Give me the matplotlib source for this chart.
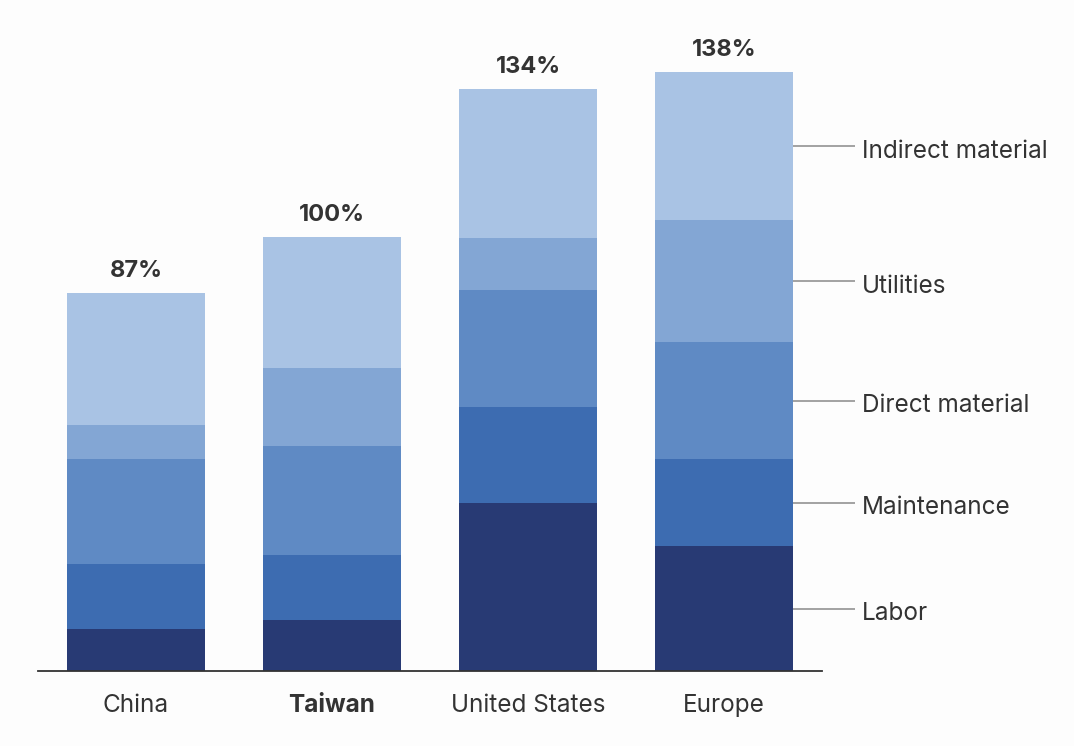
import matplotlib
matplotlib.use("Agg")
import matplotlib.pyplot as plt
import numpy as np

regions = ["China", "Taiwan", "United States", "Europe"]
totals = ["87%", "100%", "134%", "138%"]
components = ["Labor", "Maintenance", "Direct material", "Utilities", "Indirect material"]
labor = [9.7, 11.8, 38.7, 28.8]
maintenance = [15.0, 15.0, 22.1, 20.0]
direct_material = [24.2, 25.1, 27.0, 27.0]
utilities = [7.8, 18.0, 12.0, 28.1]
indirect_material = [30.3, 30.1, 34.2, 34.1]

series = [labor, maintenance, direct_material, utilities, indirect_material]
colors = ["#283a74", "#3d6cb1", "#5f8ac4", "#83a6d4", "#a9c3e4"]

plt.rcParams['font.family'] = ['Inter', 'DejaVu Sans']
bg = "#fdfdfd"
txt = "#333333"
fs = 17.5

fig = plt.figure(figsize=(10.74, 7.46), dpi=100, facecolor=bg)
ax = fig.add_axes([38/1074, 75/746, 784/1074, 651/746])
ax.set_facecolor(bg)

x = np.arange(len(regions))
bottom = np.zeros(len(regions))
width = 0.704
for vals, c in zip(series, colors):
    ax.bar(x, vals, width, bottom=bottom, color=c, linewidth=0)
    bottom = bottom + np.array(vals)

ax.set_xlim(-0.5, 3.5)
ax.set_ylim(0, 150)

# Totals above bars
for xi, tot, t in zip(x, bottom, totals):
    ax.annotate(t, xy=(xi, tot), xytext=(0, 11.5), textcoords='offset points',
                ha='center', va='baseline', fontsize=17, fontweight='bold',
                color=txt)

# Category labels below axis
for i, (xi, r) in enumerate(zip(x, regions)):
    ax.annotate(r, xy=(xi, 0), xytext=(0, -29.5), textcoords='offset points',
                ha='center', va='baseline', fontsize=fs, color=txt,
                fontweight='bold' if r == "Taiwan" else 'normal',
                annotation_clip=False)

# Right-side labels with leader lines at Europe's segment midpoints
eu = len(regions) - 1
cum = 0.0
for name, vals in zip(components, series):
    mid = cum + vals[eu] / 2
    cum += vals[eu]
    ax.plot([eu + width / 2, 3.668], [mid, mid], color="#8a8a8a", lw=1.1,
            clip_on=False, solid_capstyle='butt')
    ax.annotate(name, xy=(3.704, mid), xytext=(0, -8.4), textcoords='offset points',
                ha='left', va='baseline', fontsize=fs, color=txt,
                annotation_clip=False)

for s in ['top', 'right', 'left']:
    ax.spines[s].set_visible(False)
ax.spines['bottom'].set_color("#333333")
ax.spines['bottom'].set_linewidth(1.3)
ax.set_yticks([])
ax.set_xticks([])

fig.savefig("out.png", dpi=100, facecolor=bg)
